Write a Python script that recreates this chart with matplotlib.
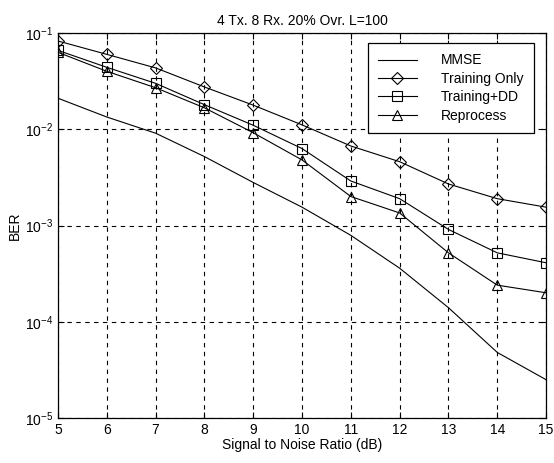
import numpy as np
import matplotlib
matplotlib.use("Agg")
import matplotlib.pyplot as plt
from matplotlib.ticker import FixedLocator, NullLocator

plt.rcParams['font.family'] = ['Liberation Sans', 'DejaVu Sans']
plt.rcParams['mathtext.fontset'] = 'custom'
plt.rcParams['mathtext.rm'] = 'Liberation Sans'
plt.rcParams['mathtext.it'] = 'Liberation Sans'
plt.rcParams['mathtext.default'] = 'regular'

# --- BER vs SNR, 4 Tx / 8 Rx, 20% overhead, L=100 ---
snr_db = [5, 6, 7, 8, 9, 10, 11, 12, 13, 14, 15]

ber_mmse = [0.021, 0.0134, 0.0091, 0.0052, 0.0028, 0.00155, 0.00079,
            0.00036, 0.00014, 0.000048, 0.000025]
ber_training_only = [0.0826, 0.060, 0.0434, 0.0275, 0.0178, 0.0111, 0.0067,
                     0.0046, 0.0027, 0.0019, 0.00155]
ber_training_dd = [0.066, 0.044, 0.030, 0.018, 0.011, 0.0063, 0.0029,
                   0.0019, 0.00091, 0.00052, 0.00041]
ber_reprocess = [0.063, 0.040, 0.027, 0.0167, 0.0092, 0.0048, 0.0020,
                 0.00135, 0.00052, 0.00024, 0.00020]

y_ticks = [1e-5, 1e-4, 1e-3, 1e-2, 1e-1]
y_tick_labels = ['$10^{-5}$', '$10^{-4}$', '$10^{-3}$', '$10^{-2}$', '$10^{-1}$']

fig = plt.figure(figsize=(5.54, 4.63), dpi=100)
ax = fig.add_axes([0.1047, 0.0972, 0.881, 0.8315])

line_kw = dict(color='black', linewidth=0.8, markerfacecolor='none',
               markeredgecolor='black', markeredgewidth=0.8, markersize=7)
ax.semilogy(snr_db, ber_mmse, label='MMSE', **line_kw)
ax.semilogy(snr_db, ber_training_only, marker='D', label='Training Only',
            **{**line_kw, 'markersize': 6})
ax.semilogy(snr_db, ber_training_dd, marker='s', label='Training+DD', **line_kw)
ax.semilogy(snr_db, ber_reprocess, marker='^', label='Reprocess', **line_kw)

ax.set_xlim(5, 15)
ax.set_ylim(1e-5, 1e-1)
ax.set_xticks(snr_db)
ax.yaxis.set_major_locator(FixedLocator(y_ticks))
ax.yaxis.set_minor_locator(NullLocator())
ax.set_yticklabels(y_tick_labels)
ax.tick_params(direction='in', top=True, right=True, length=4, labelsize=10,
               width=0.8)
ax.grid(True, which='major', color='black', linestyle=(0, (4, 4)), linewidth=0.8)
for s in ax.spines.values():
    s.set_linewidth(0.9)

ax.set_xlabel('Signal to Noise Ratio (dB)', fontsize=10, labelpad=1)
ax.set_ylabel('BER', fontsize=10, labelpad=2)
ax.set_title('4 Tx. 8 Rx. 20% Ovr. L=100', fontsize=10, pad=6)

# legend box sits just inside the upper right corner
leg = ax.legend(loc='upper right', bbox_to_anchor=(1 - 12 / 488, 1 - 10 / 385),
                borderaxespad=0, fontsize=10,
                fancybox=False, edgecolor='black', framealpha=1,
                handlelength=2.8, labelspacing=0.32, borderpad=0.75,
                handletextpad=1.75)
leg.get_frame().set_linewidth(0.9)

fig.savefig('out.png', dpi=100)
